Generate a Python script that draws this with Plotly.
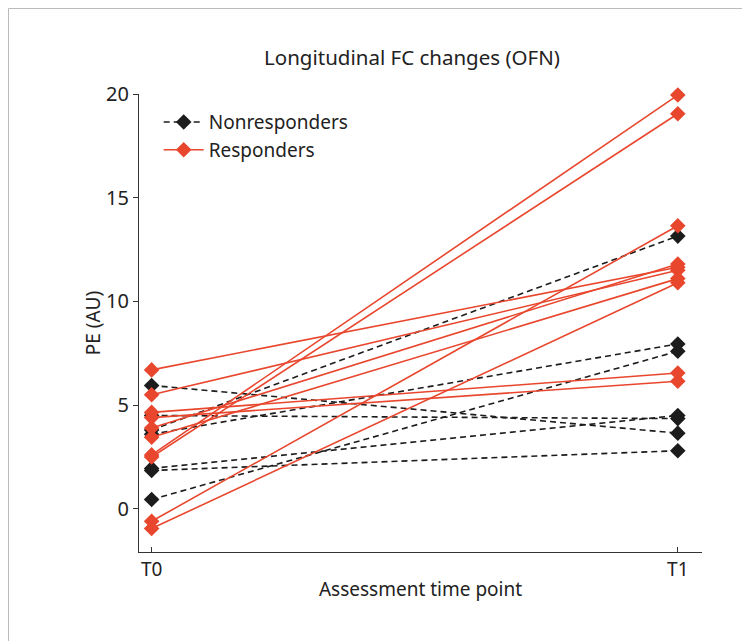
import plotly.graph_objects as go

time_points = ["T0", "T1"]
time_x = [0, 1]

nonresp_t0 = [5.95, 4.5, 3.8, 3.6, 1.95, 1.85, 0.45]
nonresp_t1 = [3.65, 4.35, 13.15, 7.95, 4.5, 2.8, 7.6]

resp_t0 = [6.7, 5.5, 4.65, 4.4, 3.9, 3.45, 2.6, 2.5, -0.6, -0.95]
resp_t1 = [11.65, 11.5, 6.55, 6.15, 11.8, 11.1, 19.95, 19.05, 13.65, 10.9]

y_ticks = [0, 5, 10, 15, 20]

BLACK = "#1c1c1c"
RED = "#E8472E"
FONT = "Noto Sans"

L, R, T, B = 131, 56, 86, 97
W, H = 750, 641
PW, PH = W - L - R, H - T - B

fig = go.Figure()

for i, (a, b) in enumerate(zip(nonresp_t0, nonresp_t1)):
    fig.add_trace(go.Scatter(
        x=time_x, y=[a, b], mode="lines+markers",
        line=dict(color=BLACK, width=1.6, dash="6px,4px"),
        marker=dict(symbol="diamond", size=12, color=BLACK),
        name="Nonresponders", legendgroup="n", showlegend=(i == 0),
        cliponaxis=False,
    ))

for i, (a, b) in enumerate(zip(resp_t0, resp_t1)):
    fig.add_trace(go.Scatter(
        x=time_x, y=[a, b], mode="lines+markers",
        line=dict(color=RED, width=1.6),
        marker=dict(symbol="diamond", size=12, color=RED),
        name="Responders", legendgroup="r", showlegend=(i == 0),
        cliponaxis=False,
    ))

fig.update_layout(
    width=W, height=H,
    margin=dict(l=L, r=R, t=T, b=B),
    paper_bgcolor="white", plot_bgcolor="white",
    font=dict(family=FONT, size=18, color="#222"),
    title=dict(text="Longitudinal FC changes (OFN)", x=404 / W,
               xanchor="center", y=1 - 50 / H, yanchor="middle",
               font=dict(size=20.5, color="#222")),
    showlegend=True,
    legend=dict(x=0.035, y=0.98, xanchor="left", yanchor="top",
                bgcolor="rgba(0,0,0,0)", font=dict(size=19, color="#222"),
                tracegroupgap=0, itemwidth=40),
    xaxis=dict(range=[-0.024, 1.046], tickvals=time_x, ticktext=time_points,
               showline=True, linecolor="#333", linewidth=1,
               ticks="inside", ticklen=5, tickcolor="#333",
               showgrid=False, zeroline=False,
               title=dict(text="Assessment time point", standoff=1,
                          font=dict(size=19)),
               tickfont=dict(size=19)),
    yaxis=dict(range=[-2.08, 20], tickvals=y_ticks,
               showline=True, linecolor="#333", linewidth=1,
               ticks="outside", ticklen=5, tickcolor="#333",
               showgrid=False, zeroline=False,
               title=dict(text="PE (AU)", standoff=0, font=dict(size=19)),
               tickfont=dict(size=20)),
    shapes=[dict(type="rect", xref="paper", yref="paper",
                 x0=(-L + 0.5) / PW, x1=(W - 0.5 - L) / PW,
                 y0=(-(B) + 0.5) / PH, y1=(H - B - 0.5) / PH,
                 line=dict(color="#bbbbbb", width=1))],
)

fig.write_html("out.html")
